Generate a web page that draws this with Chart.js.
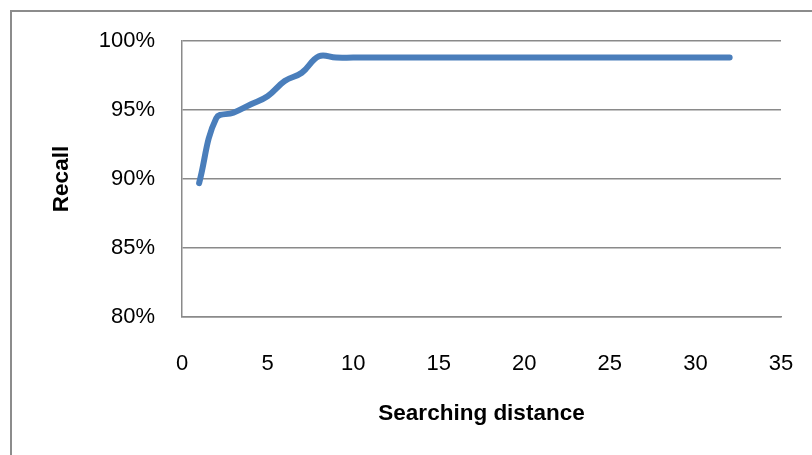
<!DOCTYPE html>
<html>
<head>
<meta charset="utf-8">
<script src="https://cdn.jsdelivr.net/npm/chart.js@4/dist/chart.umd.min.js"></script>
<style>
  html, body { margin: 0; padding: 0; background: #ffffff; }
  #wrap { position: relative; width: 812px; height: 455px; }
</style>
</head>
<body>
<div id="wrap"><canvas id="c" width="812" height="455"></canvas></div>
<script>
// Searching distance vs. recall
const distances = [1, 2, 3, 4, 5, 6, 7, 8, 9, 10, 11, 12, 13, 14, 15, 16,
                   17, 18, 19, 20, 21, 22, 23, 24, 25, 26, 27, 28, 29, 30, 31, 32];
const recall = [89.7, 94.4, 94.8, 95.4, 96.0, 97.1, 97.7, 98.9, 98.8, 98.8, 98.8, 98.8, 98.8, 98.8, 98.8, 98.8,
                98.8, 98.8, 98.8, 98.8, 98.8, 98.8, 98.8, 98.8, 98.8, 98.8, 98.8, 98.8, 98.8, 98.8, 98.8, 98.8];
const xTicks = [0, 5, 10, 15, 20, 25, 30, 35];
const yTicks = [80, 85, 90, 95, 100];

const gridGray = '#8a8a8a';
const labelFont = { family: '"Liberation Sans", Arial, sans-serif', size: 22 };

// outer frame of the chart object
const framePlugin = {
  id: 'frame',
  beforeDraw(chart) {
    const ctx = chart.ctx;
    ctx.save();
    ctx.fillStyle = '#ffffff';
    ctx.fillRect(0, 0, chart.width, chart.height);
    ctx.strokeStyle = '#8c8c8c';
    ctx.lineWidth = 2;
    ctx.strokeRect(11, 11, chart.width + 20, chart.height + 20);
    ctx.restore();
  }
};

new Chart(document.getElementById('c'), {
  type: 'line',
  data: {
    datasets: [{
      data: distances.map((d, i) => ({ x: d, y: recall[i] })),
      borderColor: '#4a7ebb',
      borderWidth: 6,
      borderCapStyle: 'round',
      borderJoinStyle: 'round',
      pointRadius: 0,
      tension: 0.4,
      fill: false
    }]
  },
  options: {
    responsive: false,
    animation: false,
    devicePixelRatio: 1,
    layout: { padding: { top: 41, right: 31, bottom: 0, left: 0 } },
    plugins: { legend: { display: false }, tooltip: { enabled: false } },
    scales: {
      x: {
        type: 'linear',
        min: 0,
        max: 35,
        afterBuildTicks(scale) { scale.ticks = xTicks.map(v => ({ value: v })); },
        afterFit(scale) {
          scale.height = 138;
          scale.paddingLeft = 0;
          scale.paddingRight = 0;
        },
        grid: { display: false },
        border: { display: true, color: gridGray, width: 1.5 },
        ticks: { color: '#000', font: labelFont, padding: 26, maxRotation: 0 },
        title: {
          display: true,
          text: 'Searching distance',
          color: '#000',
          font: { family: '"Liberation Sans", Arial, sans-serif', size: 22.5, weight: 'bold' },
          padding: { top: 0, bottom: 28 }
        }
      },
      y: {
        min: 80,
        max: 100,
        afterBuildTicks(scale) { scale.ticks = yTicks.map(v => ({ value: v })); },
        afterFit(scale) {
          scale.width = 182;
          scale.paddingTop = 0;
          scale.paddingBottom = 0;
        },
        grid: { color: gridGray, lineWidth: 1.5, drawTicks: false },
        border: { display: true, color: gridGray, width: 1.5 },
        ticks: { color: '#000', font: labelFont, padding: 27, callback: v => v + '%' },
        title: {
          display: true,
          text: 'Recall',
          color: '#000',
          font: { family: '"Liberation Sans", Arial, sans-serif', size: 22.5, weight: 'bold' },
          padding: { top: 48, bottom: 0 }
        }
      }
    }
  },
  plugins: [framePlugin]
});
</script>
</body>
</html>
